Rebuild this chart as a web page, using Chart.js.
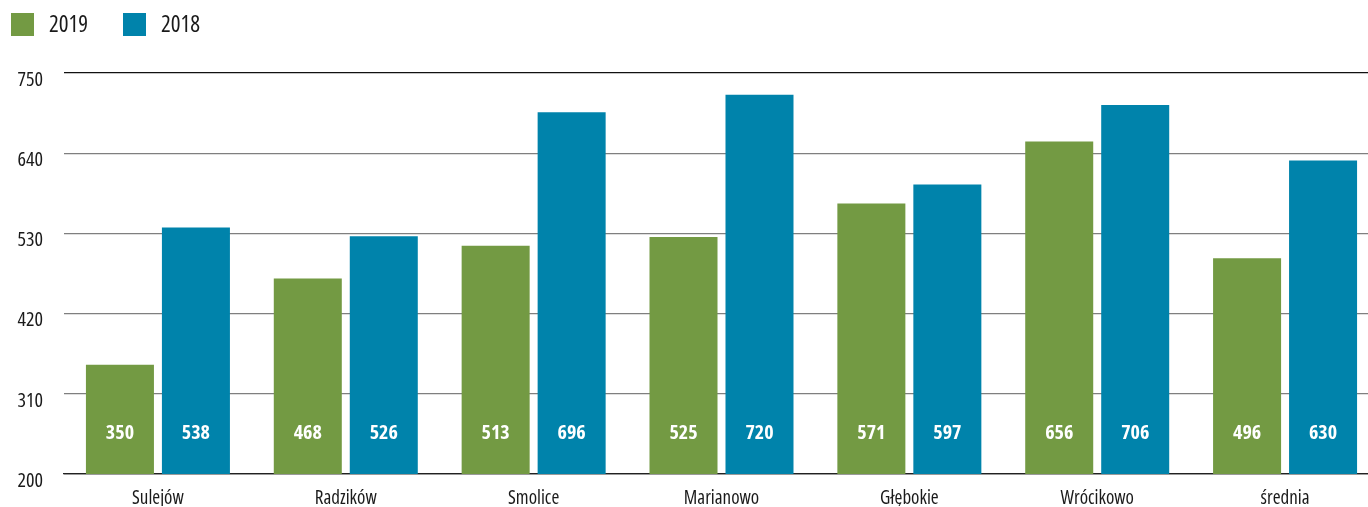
<!DOCTYPE html>
<html>
<head>
<meta charset="utf-8">
<script src="https://cdn.jsdelivr.net/npm/chart.js@4/dist/chart.umd.min.js"></script>
<style>
  html, body { margin: 0; padding: 0; background: #fff; overflow: hidden; }
  /* wykres wychodzi nieco poza prawa krawedz okna, jak w oryginale */
  #wrap { width: 1379px; height: 507px; position: relative; }
</style>
</head>
<body>
<div id="wrap"><canvas id="wykres"></canvas></div>
<script>
// Dane
var miejscowosci = ['Sulejów', 'Radzików', 'Smolice', 'Marianowo', 'Głębokie', 'Wrócikowo', 'średnia'];
var dane2019 = [350, 468, 513, 525, 571, 656, 496];
var dane2018 = [538, 526, 696, 720, 597, 706, 630];
var etykietyOsi = [200, 310, 420, 530, 640, 750];

// waska czcionka: Open Sans z font-stretch condensed
var FONT = '"Open Sans", "Roboto Condensed", sans-serif';
var ZIELONY = '#739a43';
var NIEBIESKI = '#0083ab';

// Legenda rysowana recznie (kwadraty w lewym gornym rogu)
var legendaPlugin = {
    id: 'legendaWlasna',
    afterDraw: function (chart) {
        var ctx = chart.ctx;
        var x = 11;
        ctx.save();
        ctx.font = 'condensed 23px ' + FONT;
        ctx.textBaseline = 'middle';
        chart.data.datasets.forEach(function (ds) {
            ctx.fillStyle = ds.backgroundColor;
            ctx.fillRect(x, 13, 23, 23);
            ctx.fillStyle = '#1a1a1a';
            ctx.fillText(ds.label, x + 38, 25);
            x += 112;
        });
        ctx.restore();
    }
};

// Wartosci na slupkach
var wartosciPlugin = {
    id: 'wartosci',
    afterDatasetsDraw: function (chart) {
        var ctx = chart.ctx;
        ctx.save();
        ctx.font = 'bold condensed 20px ' + FONT;
        ctx.fillStyle = '#ffffff';
        ctx.textAlign = 'center';
        ctx.textBaseline = 'middle';
        chart.data.datasets.forEach(function (ds, i) {
            var meta = chart.getDatasetMeta(i);
            meta.data.forEach(function (bar, j) {
                ctx.fillText(ds.data[j], bar.x, chart.chartArea.bottom - 41);
            });
        });
        ctx.restore();
    }
};

var config = {
    type: 'bar',
    data: {
        labels: miejscowosci,
        datasets: [{
            label: '2019',
            backgroundColor: ZIELONY,
            data: dane2019
        }, {
            label: '2018',
            backgroundColor: NIEBIESKI,
            data: dane2018
        }]
    },
    options: {
        responsive: true,
        maintainAspectRatio: false,
        animation: false,
        categoryPercentage: 0.809,
        barPercentage: 0.895,
        layout: { padding: { top: 73, right: 0, bottom: 0, left: 0 } },
        plugins: {
            legend: { display: false },
            tooltip: { enabled: false }
        },
        scales: {
            x: {
                grid: { display: false, drawTicks: false },
                border: { color: '#222', width: 1.3 },
                afterFit: function (scale) { scale.height = 32; },
                ticks: {
                    color: '#1a1a1a',
                    font: { family: FONT, size: 19, weight: 'condensed' },
                    padding: 13
                }
            },
            y: {
                min: 200,
                max: 750,
                afterBuildTicks: function (scale) {
                    scale.ticks = etykietyOsi.map(function (v) { return { value: v }; });
                },
                afterFit: function (scale) { scale.width = 64; },
                border: { display: false },
                grid: {
                    drawTicks: false,
                    lineWidth: 1.3,
                    color: function (c) {
                        return (c.tick && (c.tick.value === 750 || c.tick.value === 200)) ? '#111' : '#7f7f7f';
                    }
                },
                ticks: {
                    color: '#1a1a1a',
                    font: { family: FONT, size: 20, weight: 'condensed' },
                    padding: 21,
                    labelOffset: 7
                }
            }
        }
    },
    plugins: [legendaPlugin, wartosciPlugin]
};

var ctxWykres = document.getElementById('wykres').getContext('2d');
var wykres = new Chart(ctxWykres, config);
</script>
</body>
</html>
